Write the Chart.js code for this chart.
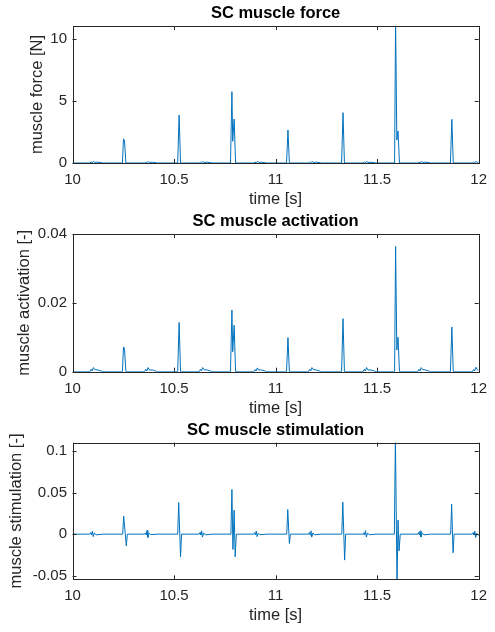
<!DOCTYPE html>
<html>
<head>
<meta charset="utf-8">
<script src="https://cdn.jsdelivr.net/npm/chart.js@4.4.1/dist/chart.umd.min.js"></script>
<style>
  body { margin: 0; background: #fff; }
  #wrap { position: relative; width: 495px; height: 632px; }
  #wrap canvas { position: absolute; left: 0; top: 0; }
</style>
</head>
<body>
<div id="wrap">
  <canvas id="force-chart" width="495" height="632"></canvas>
  <canvas id="activation-chart" width="495" height="632"></canvas>
  <canvas id="stimulation-chart" width="495" height="632"></canvas>
</div>
<script>
// time samples shared by force and activation [s]
const tMech = [
  10.000, 10.086, 10.092, 10.097, 10.103, 10.110, 10.125, 10.150,
  10.246, 10.251, 10.256, 10.263,
  10.355, 10.361, 10.366, 10.372, 10.379, 10.394, 10.419,
  10.518, 10.525, 10.532,
  10.624, 10.630, 10.635, 10.641, 10.648, 10.663, 10.688,
  10.778, 10.785, 10.789, 10.796, 10.803,
  10.893, 10.899, 10.904, 10.910, 10.917, 10.932, 10.957,
  11.054, 11.061, 11.068,
  11.162, 11.168, 11.173, 11.179, 11.186, 11.201, 11.226,
  11.325, 11.332, 11.339,
  11.431, 11.437, 11.442, 11.448, 11.455, 11.470, 11.495,
  11.586, 11.591, 11.597, 11.603, 11.610,
  11.700, 11.706, 11.711, 11.717, 11.724, 11.739, 11.764,
  11.861, 11.868, 11.875,
  11.969, 11.975, 11.980, 11.986, 11.993, 12.000,
];

// muscle force [N]
const force = [
  0, 0, 0.08, 0.01, 0.13, 0.05, 0.07, 0,
  0, 1.95, 1.82, 0,
  0, 0.07, 0.01, 0.12, 0.05, 0.06, 0,
  0, 3.87, 0,
  0, 0.08, 0.01, 0.12, 0.04, 0.07, 0,
  0, 5.75, 1.75, 3.55, 0,
  0, 0.07, 0.01, 0.13, 0.05, 0.06, 0,
  0, 2.66, 0,
  0, 0.08, 0.01, 0.12, 0.05, 0.07, 0,
  0, 4.06, 0,
  0, 0.07, 0.01, 0.13, 0.04, 0.06, 0,
  0, 11.4, 1.85, 2.58, 0,
  0, 0.08, 0.01, 0.12, 0.05, 0.07, 0,
  0, 3.52, 0,
  0, 0.07, 0.01, 0.13, 0.05, 0.06,
];

// muscle activation [-]
const activation = [
  0, 0, 0.0007, 0.0002, 0.0012, 0.0006, 0.0005, 0,
  0, 0.0072, 0.0068, 0,
  0, 0.0007, 0.0002, 0.0012, 0.0005, 0.0005, 0,
  0, 0.0143, 0,
  0, 0.0007, 0.0002, 0.0012, 0.0006, 0.0005, 0,
  0, 0.0179, 0.0058, 0.0135, 0,
  0, 0.0006, 0.0002, 0.0011, 0.0005, 0.0005, 0,
  0, 0.0099, 0,
  0, 0.0007, 0.0002, 0.0012, 0.0006, 0.0005, 0,
  0, 0.0154, 0,
  0, 0.0007, 0.0002, 0.0012, 0.0005, 0.0005, 0,
  0, 0.0364, 0.0063, 0.0100, 0,
  0, 0.0007, 0.0002, 0.0012, 0.0006, 0.0005, 0,
  0, 0.0130, 0,
  0, 0.0006, 0.0002, 0.0013, 0.0006, 0.0004,
];

// stimulation has its own (biphasic) samples
const tStim = [
  10.000, 10.086, 10.090, 10.094, 10.098, 10.102, 10.108, 10.116, 10.150,
  10.247, 10.252, 10.265, 10.270,
  10.355, 10.359, 10.363, 10.367, 10.371, 10.377, 10.385, 10.419,
  10.518, 10.523, 10.532, 10.537,
  10.624, 10.628, 10.632, 10.636, 10.640, 10.646, 10.654, 10.688,
  10.780, 10.785, 10.790, 10.796, 10.801, 10.807,
  10.893, 10.897, 10.901, 10.905, 10.909, 10.915, 10.923, 10.957,
  11.055, 11.060, 11.068, 11.073,
  11.162, 11.166, 11.170, 11.174, 11.178, 11.184, 11.192, 11.226,
  11.326, 11.331, 11.340, 11.345,
  11.431, 11.435, 11.439, 11.443, 11.447, 11.453, 11.461, 11.495,
  11.585, 11.590, 11.598, 11.603, 11.608, 11.614,
  11.700, 11.704, 11.708, 11.712, 11.716, 11.722, 11.730, 11.764,
  11.862, 11.867, 11.874, 11.879,
  11.969, 11.973, 11.977, 11.981, 11.985, 11.991, 12.000,
];

const stimulation = [
  0, 0, 0.002, -0.001, 0.0035, -0.003, 0.0015, -0.0008, 0,
  0, 0.0216, -0.014, 0,
  0, 0.0015, -0.001, 0.0045, -0.004, 0.0012, -0.0006, 0,
  0, 0.038, -0.0272, 0,
  0, 0.002, -0.001, 0.004, -0.0035, 0.0015, -0.0008, 0,
  0, 0.0537, -0.0184, 0.0288, -0.0272, 0,
  0, 0.0018, -0.001, 0.0038, -0.003, 0.0014, -0.0007, 0,
  0, 0.0297, -0.0112, 0,
  0, 0.002, -0.001, 0.004, -0.0035, 0.0015, -0.0008, 0,
  0, 0.0384, -0.0312, 0,
  0, 0.0018, -0.001, 0.0042, -0.0035, 0.0014, -0.0007, 0,
  0, 0.118, -0.062, 0.0168, -0.020, 0,
  0, 0.002, -0.001, 0.004, -0.0035, 0.0015, -0.0008, 0,
  0, 0.036, -0.0224, 0,
  0, 0.0018, -0.001, 0.0035, -0.004, 0.001, -0.002,
];

const xTicks = [10, 10.5, 11, 11.5, 12];
const forceTicks = [0, 5, 10];
const activationTicks = [0, 0.02, 0.04];
const stimulationTicks = [-0.05, 0, 0.05, 0.1];

const FONT = '"Liberation Sans", Arial, Helvetica, sans-serif';
const AXIS_COLOR = "#262626";
const LINE_COLOR = "#0072BD";

// matlab-like box with inward ticks on all four sides + bold title
const matlabBox = {
  id: "matlabBox",
  afterDraw(chart, args, opts) {
    const { ctx, chartArea: a, scales } = chart;
    const len = 4;
    ctx.save();
    ctx.strokeStyle = AXIS_COLOR;
    ctx.lineWidth = 1;
    ctx.beginPath();
    xTicks.forEach((v) => {
      const px = Math.round(scales.x.getPixelForValue(v)) + 0.5;
      ctx.moveTo(px, a.bottom);
      ctx.lineTo(px, a.bottom - len);
      ctx.moveTo(px, a.top);
      ctx.lineTo(px, a.top + len);
    });
    scales.y.ticks.forEach((t) => {
      const py = Math.round(scales.y.getPixelForValue(t.value)) + 0.5;
      ctx.moveTo(a.left, py);
      ctx.lineTo(a.left + len, py);
      ctx.moveTo(a.right, py);
      ctx.lineTo(a.right - len, py);
    });
    ctx.stroke();
    ctx.strokeRect(
      Math.round(a.left) + 0.5,
      Math.round(a.top) + 0.5,
      Math.round(a.right) - Math.round(a.left),
      Math.round(a.bottom) - Math.round(a.top)
    );
    ctx.fillStyle = "#000";
    ctx.font = `bold 16.5px ${FONT}`;
    ctx.textAlign = "center";
    ctx.textBaseline = "middle";
    ctx.fillText(opts.text, (a.left + a.right) / 2, a.top - 12.5);
    ctx.restore();
  },
};

const makeChart = (id, cfg) => {
  const ctx = document.getElementById(id).getContext("2d");
  const points = cfg.t.map((t, i) => ({ x: t, y: cfg.values[i] }));
  const plotLeft = 72.5;
  const plotRight = 480.7;
  const xAxisHeight = 46.2;

  return new Chart(ctx, {
    type: "line",
    data: {
      datasets: [
        {
          data: points,
          borderColor: LINE_COLOR,
          borderWidth: 1,
          pointRadius: 0,
          tension: 0,
          fill: false,
        },
      ],
    },
    plugins: [matlabBox],
    options: {
      responsive: false,
      animation: false,
      devicePixelRatio: 1,
      layout: {
        padding: {
          left: cfg.labelLeft,
          right: 495 - plotRight,
          top: cfg.top,
          bottom: 632 - cfg.bottom - xAxisHeight,
        },
      },
      plugins: {
        legend: { display: false },
        tooltip: { enabled: false },
        matlabBox: { text: cfg.title },
      },
      scales: {
        x: {
          type: "linear",
          min: 10,
          max: 12,
          grid: { display: false, drawTicks: false },
          border: { display: false },
          afterBuildTicks: (s) => {
            s.ticks = xTicks.map((v) => ({ value: v }));
          },
          afterFit: (s) => {
            s.height = xAxisHeight;
          },
          ticks: {
            padding: 8,
            color: AXIS_COLOR,
            font: { family: FONT, size: 15 },
            maxRotation: 0,
            autoSkip: false,
            callback: (v) => String(v),
          },
          title: {
            display: true,
            text: "time [s]",
            color: AXIS_COLOR,
            padding: 0,
            font: { family: FONT, size: 16.5 },
          },
        },
        y: {
          type: "linear",
          min: cfg.yMin,
          max: cfg.yMax,
          grid: { display: false, drawTicks: false },
          border: { display: false },
          afterBuildTicks: (s) => {
            s.ticks = cfg.yTicks.map((v) => ({ value: v }));
          },
          afterFit: (s) => {
            s.width = plotLeft - cfg.labelLeft;
          },
          ticks: {
            padding: 5.5,
            color: AXIS_COLOR,
            font: { family: FONT, size: 15 },
            autoSkip: false,
            callback: (v) => String(v),
          },
          title: {
            display: true,
            text: cfg.yLabel,
            color: AXIS_COLOR,
            padding: 0,
            font: { family: FONT, size: 16.5 },
          },
        },
      },
    },
  });
};

makeChart("force-chart", {
  t: tMech,
  values: force,
  title: "SC muscle force",
  yLabel: "muscle force [N]",
  yMin: 0,
  yMax: 11.05,
  yTicks: forceTicks,
  top: 26,
  bottom: 163,
  labelLeft: 27.6,
});

makeChart("activation-chart", {
  t: tMech,
  values: activation,
  title: "SC muscle activation",
  yLabel: "muscle activation [-]",
  yMin: 0,
  yMax: 0.04,
  yTicks: activationTicks,
  top: 234,
  bottom: 371.7,
  labelLeft: 14.1,
});

makeChart("stimulation-chart", {
  t: tStim,
  values: stimulation,
  title: "SC muscle stimulation",
  yLabel: "muscle stimulation [-]",
  yMin: -0.0543,
  yMax: 0.11,
  yTicks: stimulationTicks,
  top: 442.7,
  bottom: 579.3,
  labelLeft: 6.6,
});
</script>
</body>
</html>
